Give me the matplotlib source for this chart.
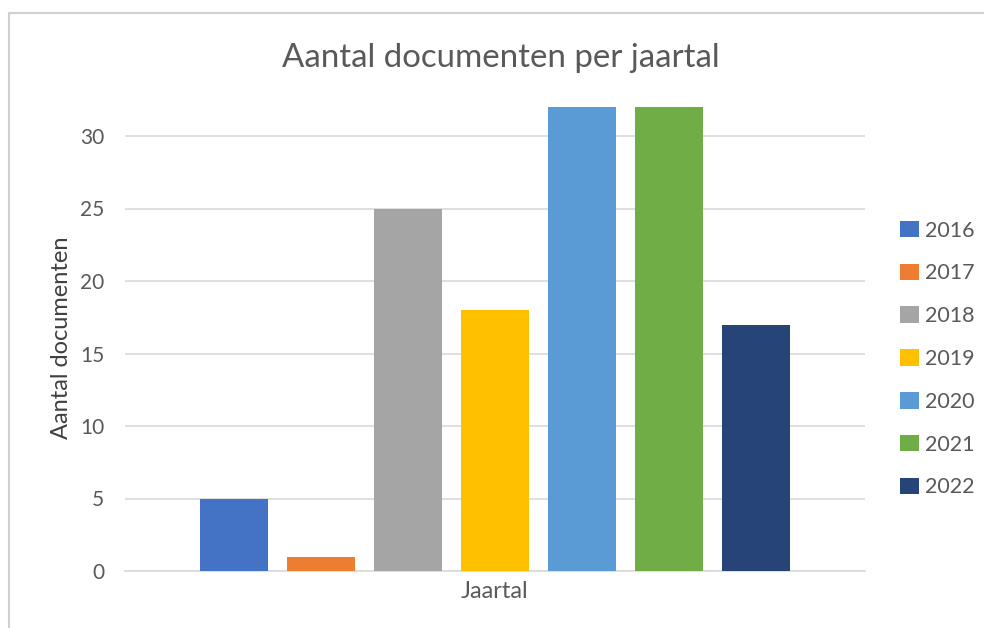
import matplotlib
matplotlib.use("Agg")
import matplotlib.pyplot as plt
from matplotlib.patches import Rectangle

years = ["2016", "2017", "2018", "2019", "2020", "2021", "2022"]
counts = [5, 1, 25, 18, 32, 32, 17]
colors = ["#4472C4", "#ED7D31", "#A5A5A5", "#FFC000", "#5B9BD5", "#70AD47", "#264478"]
yticks = [0, 5, 10, 15, 20, 25, 30]

plt.rcParams['font.family'] = ['Lato', 'DejaVu Sans']
txt = "#595959"

W, H = 984, 628
fig = plt.figure(figsize=(W / 100, H / 100), dpi=100)
fig.patch.set_facecolor("white")

# outer chart border (partially cropped)
fig.patches.append(Rectangle((9 / W, -0.1), 1.2, (H - 13) / H + 0.1, transform=fig.transFigure,
                             fill=False, edgecolor="#d0d0d0", linewidth=1.5))

ax = fig.add_axes([125 / W, (H - 571) / H, 740 / W, 464 / H])
n = len(years)
handles = []
for i, (y, c, col) in enumerate(zip(years, counts, colors)):
    h = ax.bar(i - (n - 1) / 2, c, width=68 / 87, color=col, label=y, zorder=3)
    handles.append(h)

ax.set_xlim(-740 / 87 / 2, 740 / 87 / 2)
ax.set_ylim(0, 32)
ax.set_yticks(yticks)
ax.set_xticks([])
ax.yaxis.grid(True, color="#d9d9d9", linewidth=1.2, zorder=0)
for s in ["top", "right", "left"]:
    ax.spines[s].set_visible(False)
ax.spines["bottom"].set_color("#d9d9d9")
ax.spines["bottom"].set_linewidth(1.2)
ax.tick_params(axis="y", length=0, pad=15, labelsize=15, labelcolor=txt)

fig.text(501 / W, 1 - 58 / H, "Aantal documenten per jaartal", ha="center", va="center",
         fontsize=23.8, color=txt)
fig.text(62 / W, 1 - 338 / H, "Aantal documenten", ha="center", va="center", rotation=90,
         fontsize=17, color="#404040")
fig.text(494 / W, 1 - 591 / H, "Jaartal", ha="center", va="center", fontsize=17, color=txt)

leg = fig.legend(handles=handles, labels=years, loc="center left",
                 bbox_to_anchor=(881 / W, 1 - 359 / H), frameon=False, fontsize=15.5,
                 labelcolor=txt, handlelength=0.85, handleheight=0.8, handletextpad=0.3,
                 labelspacing=1.06)

fig.savefig("out.png", dpi=100)
